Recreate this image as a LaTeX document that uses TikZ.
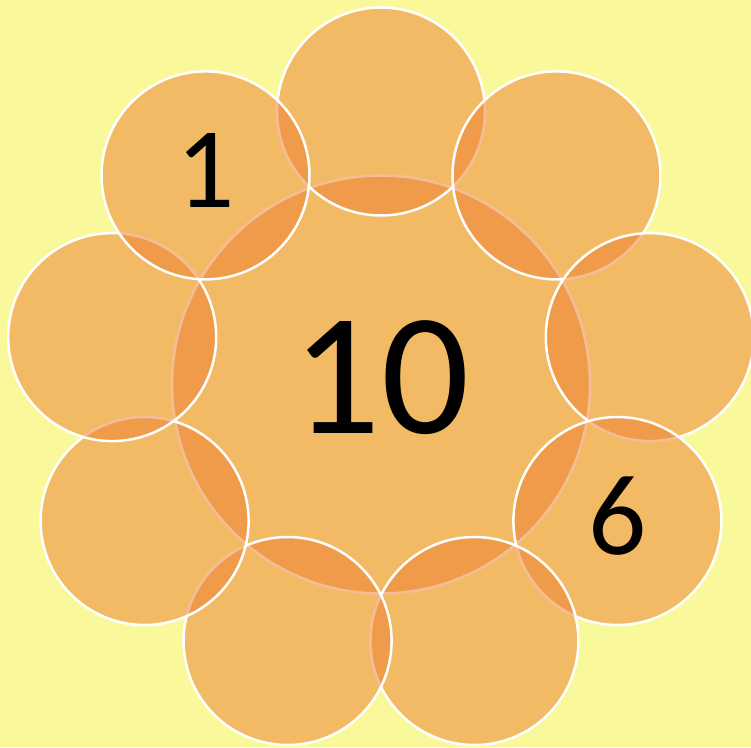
\documentclass[tikz,border=0pt]{standalone}
\usepackage{fontspec}
\setmainfont{Carlito}
\definecolor{bgyellow}{RGB}{249,249,155}
\definecolor{petalorange}{RGB}{237,125,49}
\begin{document}
\begin{tikzpicture}[x=1pt,y=-1pt,
  petal/.style={circle, inner sep=0pt, fill=petalorange, fill opacity=0.5, draw=white, line width=2.5pt, minimum size=208pt},
  hubstyle/.style={petal, minimum size=418pt},
  lbl/.style={anchor=base, inner sep=0pt, text=black}]
\fill[bgyellow] (0,0) rectangle (751,747);
\useasboundingbox (0,0) rectangle (751,747);
\node[hubstyle] (hub) at (381,384.5) {};
\node[petal] (p9) at (381,111.5) {};
\node[petal] (p8) at (556.5,175.4) {};
\node[petal] (p7) at (649.8,337.1) {};
\node[petal] (p6) at (617.4,521) {};
\node[petal] (p5) at (474.4,641) {};
\node[petal] (p4) at (287.6,641) {};
\node[petal] (p3) at (144.6,521) {};
\node[petal] (p2) at (112.2,337.1) {};
\node[petal] (p1) at (205.5,175.4) {};
\node[lbl, font=\fontsize{174}{174}\selectfont] (t10) at (381,433.5) {10};
\node[lbl, font=\fontsize{115}{115}\selectfont] (t1) at (206,207.7) {1};
\node[lbl, font=\fontsize{115}{115}\selectfont] (t6) at (618,554.5) {6};
\end{tikzpicture}
\end{document}
